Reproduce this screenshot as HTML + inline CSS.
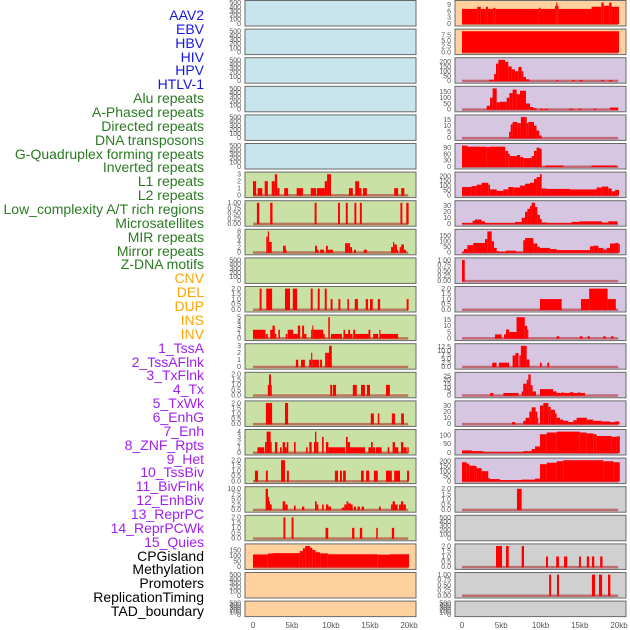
<!DOCTYPE html>
<html><head><meta charset="utf-8">
<style>
html,body{margin:0;padding:0;background:#fff;}
body{width:630px;height:630px;overflow:hidden;position:relative;font-family:"Liberation Sans",sans-serif;}
#labels{position:absolute;left:0;top:0;width:204px;height:630px;}
.lab{position:absolute;right:0;font-size:14px;line-height:14px;white-space:nowrap;text-align:right;}
svg{position:absolute;left:0;top:0;}
</style></head>
<body>
<div id="labels"></div>
<svg id="chart" width="630" height="630"></svg>
<script>
const trackNames=["AAV2","EBV","HBV","HIV","HPV","HTLV-1","Alu repeats","A-Phased repeats","Directed repeats","DNA transposons","G-Quadruplex forming repeats","Inverted repeats","L1 repeats","L2 repeats","Low_complexity A/T rich regions","Microsatellites","MIR repeats","Mirror repeats","Z-DNA motifs","CNV","DEL","DUP","INS","INV","1_TssA","2_TssAFlnk","3_TxFlnk","4_Tx","5_TxWk","6_EnhG","7_Enh","8_ZNF_Rpts","9_Het","10_TssBiv","11_BivFlnk","12_EnhBiv","13_ReprPC","14_ReprPCWk","15_Quies","CPGisland","Methylation","Promoters","ReplicationTiming","TAD_boundary"];
const trackGroups=[6,13,5,15,5];
const groupColors=["#1515e6","#2a7a22","#ffa500","#a020f0","#000000"];
const xTickLabels=["0","5kb","10kb","15kb","20kb"];
const xTickValues=[0,5,10,15,20];

const T500=["0","100","200","300","400","500"];
const T1=["0.00","0.25","0.50","0.75","1.00"];
const T2=["0.0","0.5","1.0","1.5","2.0"];

const segsL6=[[0,0.4,2],[0.6,1.2,1],[1.5,1.9,2],[2.4,2.8,2],[2.8,3.1,3],[3.1,3.4,1],[4.0,4.5,1],[5.6,6.4,1],[7.4,8.1,1],[8.2,9.2,1],[9.2,9.5,2],[9.5,10.0,3],[12.3,12.8,1],[13.1,13.6,2],[13.6,13.9,1],[14.1,14.6,1],[18.1,18.6,1],[19.0,19.4,1]];
const segsL7=[[0.5,0.8,1],[2.2,2.5,1],[7.9,8.15,1],[10.9,11.15,1],[11.9,12.15,1],[13.0,13.25,1],[13.7,13.95,1],[18.9,19.15,1],[19.65,19.95,1]];
const segsL8=[[1.7,1.9,6],[1.9,2.05,8],[2.05,2.4,4],[3.85,4.2,2.5],[4.2,4.3,1],[7.95,8.2,2.5],[8.2,8.4,1],[8.6,9.1,1],[9.35,9.6,2.5],[9.6,10.25,1],[11.8,12.2,3.5],[12.2,12.45,3.5],[12.45,12.7,2],[12.95,13.2,1],[14.2,14.6,1],[17.7,17.95,2],[17.95,18.1,4],[18.1,18.45,3],[18.45,18.6,1],[18.8,19.0,2],[19.0,19.35,3],[19.35,19.6,1]];
const segsL10=[[0.85,1.1,2],[1.7,2.45,2],[4.1,4.75,2],[5.1,5.65,2],[7.4,7.65,2],[8.3,8.55,2],[9.2,9.45,2],[9.95,10.2,1],[10.95,11.2,1],[12.1,12.3,1],[13.05,13.45,1],[14.45,14.75,1],[15.0,15.35,1],[16.0,16.3,1],[19.7,19.95,1]];
const segsL11=[[0,1.6,2],[1.65,1.9,1],[2.2,2.5,2],[2.5,2.8,3],[2.8,3.0,1],[3.25,3.45,2],[4.2,4.4,1],[4.45,5.15,2],[5.15,5.8,1],[5.75,6.05,3],[6.3,6.55,3],[6.55,6.85,1],[7.45,7.6,2],[7.6,7.75,3],[7.75,9.0,2],[9.0,9.2,1],[9.65,9.85,5],[10.0,11.4,1],[11.6,11.8,2],[11.8,12.2,1],[12.2,12.45,2],[12.45,12.75,1],[12.85,13.1,2],[13.1,14.8,1],[14.8,15.05,2],[15.4,16.05,1],[16.2,16.35,2],[16.35,18.6,1]];
const segsL12=[[5.5,5.8,1],[6.15,6.65,1],[7.2,7.45,1],[7.45,7.6,2],[7.6,7.7,1],[7.7,8.45,1],[8.6,8.85,1],[9.25,9.6,2],[9.6,9.75,2],[9.75,10.1,3]];
const segsL13=[[1.9,2.05,1],[2.05,2.3,2],[2.3,2.4,1],[9.9,10.15,1],[10.25,10.65,1],[12.8,13.3,1],[13.85,14.35,1],[14.6,15.0,1],[17.05,17.55,1]];
const segsL14=[[1.65,2.45,2],[4.1,4.5,2],[15.1,15.5,1],[16.0,16.2,1],[17.8,18.2,1],[19.0,19.35,1]];
const segsL15=[[0.56,1.45,1],[1.54,1.75,2],[1.75,2.26,4],[2.26,2.4,2],[2.82,3.12,2],[3.46,3.68,1],[3.8,4.1,2],[4.1,4.32,1],[4.32,4.53,2],[5.26,5.47,2],[6.8,7.0,1],[7.22,7.52,2],[7.82,7.95,2],[7.95,8.12,4],[8.12,8.38,2],[8.85,9.06,3],[9.36,9.66,2],[9.66,11.8,1],[11.92,12.14,3],[12.14,12.44,2],[12.44,14.36,1],[14.79,15.13,1],[15.13,15.34,2],[15.34,15.64,1],[15.73,16.5,1],[17.26,17.48,1],[17.9,18.2,2],[18.2,18.63,1],[18.97,19.27,2],[19.27,19.7,1],[19.79,19.96,1]];
const segsL16=[[0.25,0.65,1],[1.65,1.9,1],[3.6,4.1,2],[4.35,4.6,1],[10.5,10.9,1],[11.15,11.4,1],[11.55,11.9,1],[13.85,14.2,1],[14.5,14.9,1],[15.5,16.0,1],[17.05,17.8,1],[18.1,18.85,1],[19.75,20.0,1]];
const segsL17=[[1.62,1.92,10],[1.92,2.05,6],[2.05,2.18,4],[2.18,2.4,2.5],[3.8,4.15,4],[4.15,4.45,2.5],[5.25,5.47,2],[6.28,6.58,1.5],[7.95,8.16,4],[8.16,8.38,2.5],[8.85,9.06,2.5],[9.36,9.66,2.5],[9.66,10.0,1.5],[11.37,11.7,1],[11.7,12.0,2.5],[12.0,12.22,4],[12.22,12.56,3],[12.56,12.78,2.5],[12.95,13.2,1.5],[13.4,13.7,1.5],[13.93,14.23,1.5],[16.15,16.37,1.5],[17.7,17.9,2.5],[17.9,18.2,4],[18.2,18.55,2.5],[18.72,18.97,2.5],[18.97,19.27,4],[19.27,19.6,2.5]];
const segsL18=[[3.9,4.15,2],[4.95,5.2,2],[9.3,9.65,1],[12.7,13.0,1],[13.7,14.0,1],[15.8,16.0,1],[17.8,18.1,1]];
const segsL19=[[0,1.9,110],[1.9,2.5,118],[2.5,6.0,122],[6.0,6.4,140],[6.4,6.7,165],[6.7,7.3,185],[7.3,7.6,170],[7.6,8.0,150],[8.0,8.6,130],[8.6,9.6,120],[9.6,16.0,112],[16.0,17.5,108],[17.5,20.0,112]];

const segsR0=[[0,1.95,7],[1.95,2.4,8],[2.4,3.05,7],[3.05,3.3,8],[3.3,4.0,7],[4.0,4.25,7.5],[4.25,9.8,7],[9.8,10.0,7.5],[10.0,11.85,7],[11.85,12.0,8.5],[12.0,12.15,10],[12.15,12.3,8.5],[12.3,16.5,7],[16.5,17.75,8],[17.75,18.05,10],[18.05,18.75,8.5],[18.75,19.05,10],[19.05,20,8]];
const segsR1=[[0,20,9.2]];
const segsR2=[[3.44,4.08,10],[4.08,4.33,70],[4.33,4.63,180],[4.63,5.48,220],[5.48,5.9,200],[5.9,6.33,150],[6.33,6.75,120],[6.75,7.18,100],[7.18,7.6,145],[7.6,7.81,100],[7.81,8.15,40],[8.15,8.58,15],[12.0,12.3,5],[14.0,14.4,5],[14.95,15.4,5],[17.7,18.1,5],[18.7,19.2,5]];
const segsR3=[[3.14,3.57,30],[3.57,3.9,100],[3.9,4.42,180],[4.42,4.76,60],[4.76,5.69,65],[5.69,6.03,100],[6.03,6.45,140],[6.45,6.96,170],[6.96,7.39,130],[7.39,8.15,160],[8.15,8.66,50],[8.66,9.09,20],[9.09,9.5,10],[9.94,10.36,5],[10.5,11.0,5],[13.63,14.2,5],[14.8,15.24,5],[16.73,17.15,5],[18.85,19.9,15]];
const segsR4=[[5.99,6.2,5],[6.2,6.45,11],[6.45,7.05,13],[7.05,7.5,12],[7.5,8.24,17],[8.24,8.45,12],[8.45,9.17,13],[9.17,9.5,10],[9.5,9.85,6],[9.85,10.15,2]];
const segsR5=[[0,0.7,100],[0.7,3.1,95],[3.1,3.5,93],[3.5,5.5,95],[5.5,5.9,75],[5.9,6.1,60],[6.1,7.0,50],[7.0,7.4,55],[7.4,7.8,45],[7.8,8.87,40],[8.87,9.17,50],[9.17,9.5,75],[9.5,9.93,90],[9.93,10.15,85],[10.6,12.9,5],[16.5,19.7,5]];
const segsR6=[[0,1.23,85],[1.23,1.87,95],[1.87,2.5,110],[2.5,3.35,130],[3.35,3.57,110],[3.57,4.42,60],[4.42,5.27,45],[5.27,5.9,60],[5.9,6.54,85],[6.54,7.39,80],[7.39,8.03,100],[8.03,8.66,120],[8.66,9.17,130],[9.17,9.5,170],[9.5,9.93,190],[9.93,10.15,220],[10.15,10.78,70],[10.78,13.75,65],[13.75,17.15,60],[17.15,17.8,80],[17.8,18.64,90],[18.64,19.07,70],[19.07,19.5,40],[19.5,20,55]];
const segsR7=[[0,1.35,1],[1.35,1.65,5],[1.65,2.5,7],[2.5,2.93,4],[2.93,6.75,1],[6.75,7.6,3],[7.6,8.03,10],[8.03,8.33,20],[8.33,8.66,25],[8.66,8.87,30],[8.87,9.3,35],[9.3,9.6,28],[9.6,9.93,15],[9.93,10.15,8],[10.15,10.87,2],[10.87,13.97,1],[13.97,14.95,3],[14.95,17.8,4],[17.8,18.64,2],[18.64,19.8,4]];
const segsR8=[[0,0.25,5],[0.25,0.68,30],[0.68,1.44,65],[1.44,2.93,85],[2.93,3.23,120],[3.23,3.78,190],[3.78,4.08,100],[4.08,4.42,40],[4.42,4.7,10],[4.7,5.6,5],[5.6,6.88,15],[6.88,7.8,5],[7.8,8.03,110],[8.03,9.09,130],[9.09,9.6,80],[9.6,9.93,50],[9.93,11.2,40],[11.2,12.06,30],[12.06,16.3,20],[16.3,16.73,55],[16.73,17.37,60],[17.37,18.0,40],[18.0,18.43,25],[18.43,18.85,40],[18.85,19.5,80],[19.5,19.92,85],[19.92,20.1,75]];
const segsR9=[[0,0.35,1]];
const segsR10=[[9.93,12.7,1],[15.15,16.2,1],[16.2,18.55,2],[18.55,19.6,1]];
const segsR11=[[4.2,5.05,3],[5.35,5.6,3],[5.6,6.0,7],[6.0,6.95,5],[6.95,8.0,17],[8.0,8.3,10],[8.3,8.45,7],[12.05,12.4,1.5],[15.0,15.35,1.5],[16.0,16.3,1.5],[18.0,18.3,1.5],[19.0,19.3,1.5]];
const segsR12=[[3.85,4.4,2.5],[4.7,6.0,2.5],[6.45,6.8,7],[6.8,7.2,8.5],[7.3,7.5,7],[7.5,8.24,13],[8.24,8.6,4.5],[9.93,10.15,2.5],[10.87,11.1,2.5]];
const segsR13=[[3.57,4.0,3],[5.27,7.2,3],[7.6,7.8,5],[7.8,8.25,15],[8.25,8.45,20],[8.45,8.75,27],[8.75,9.0,13],[9.0,9.43,5],[9.93,11.6,8],[11.6,12.06,5],[12.06,12.7,3],[12.7,12.9,4],[12.9,13.75,3],[13.75,14.18,4],[14.18,14.82,3],[14.82,15.03,4],[15.03,15.67,3]];
const segsR14=[[6.37,6.8,3],[7.8,8.1,5],[8.1,8.58,10],[8.58,8.87,20],[8.87,9.38,27],[9.38,9.6,20],[9.6,9.72,10],[9.93,10.36,30],[10.36,11.0,34],[11.0,11.3,28],[11.3,11.85,23],[11.85,12.06,17],[12.06,12.48,10],[12.48,12.9,7],[12.9,13.55,5],[13.55,14.18,3],[14.18,14.6,6],[14.6,15.9,10],[15.9,16.73,7],[16.73,17.8,5],[17.8,18.85,4],[18.85,19.5,3],[19.5,20.05,4]];
const segsR15=[[0,1.25,12],[1.25,2.7,8],[2.7,7.8,2],[7.8,8.87,8],[8.87,9.3,20],[9.3,9.93,35],[9.93,10.8,105],[10.8,12.06,115],[12.06,15.0,120],[15.0,15.88,115],[15.88,16.73,110],[16.73,17.15,105],[17.15,19.07,95],[19.07,19.7,90],[19.7,20.1,93]];
const segsR16=[[0,0.6,190],[0.6,0.93,175],[0.93,1.65,155],[1.65,1.87,150],[1.87,2.5,130],[2.5,3.35,100],[3.35,3.57,30],[3.57,4.85,20],[4.85,7.6,10],[7.6,9.3,15],[9.3,9.93,25],[9.93,10.8,170],[10.8,12.06,185],[12.06,12.9,200],[12.9,18.0,210],[18.0,19.28,200],[19.28,20.1,190]];
const segsR17=[[7.0,7.6,2]];
const segsR19=[[4.33,5.1,2],[5.6,5.95,2],[7.6,7.9,2],[10.7,10.95,1],[12.0,12.35,1],[13.0,13.4,1],[14.9,15.15,1],[15.9,16.2,1],[16.55,16.85,1],[17.6,17.9,1]];
const segsR20=[[11.1,11.35,1],[12.1,12.35,1],[16.55,16.95,1],[17.45,17.85,1],[18.6,18.9,1]];

const BLUE="#c8e4ec",GREEN="#c9e1a5",ORANGE="#fed19f",PURPLE="#d6c6e2",GRAY="#d0d0d0";
const leftSegs=[null,null,null,null,null,null,segsL6,segsL7,segsL8,null,segsL10,segsL11,segsL12,segsL13,segsL14,segsL15,segsL16,segsL17,segsL18,segsL19,null,null];
const leftTicks=[T500,T500,T500,T500,T500,T500,["0","1","2","3"],T1,["0","2","4","6","8"],T500,T2,["0","1","2","3","4","5"],["0","1","2","3"],T2,T2,["0","1","2","3","4"],T2,["0.0","2.5","5.0","7.5","10.0"],T2,["0","50","100","150"],T500,T500];
const rightSegs=[segsR0,segsR1,segsR2,segsR3,segsR4,segsR5,segsR6,segsR7,segsR8,segsR9,segsR10,segsR11,segsR12,segsR13,segsR14,segsR15,segsR16,segsR17,null,segsR19,segsR20,null];
const rightTicks=[["0","3","6","9"],["0.0","2.5","5.0","7.5"],["0","50","100","150","200"],["0","50","100","150"],["0","5","10","15"],["0","30","60","90"],["0","50","100","150","200"],["0","10","20","30"],["0","50","100","150"],T1,T2,["0","5","10","15"],["0.0","2.5","5.0","7.5","10.0","12.5"],["0","5","10","15","20","25"],["0","10","20","30"],["0","50","100"],["0","50","100","150","200"],T2,T500,T2,T1,T500];

// labels
const labDiv=document.getElementById('labels');
let gi=0,gc=0;
trackNames.forEach((n,i)=>{
  const d=document.createElement('div');
  d.className='lab';
  
  
  d.style.top=(8+i*13.86)+'px';
  d.style.color=groupColors[gi];
  d.textContent=n;
  labDiv.appendChild(d);
  gc++; if(gc>=trackGroups[gi]){gi++;gc=0;}
});

const NS="http://www.w3.org/2000/svg";
const svg=document.getElementById('chart');
function mk(tag,attrs){const e=document.createElementNS(NS,tag);for(const k in attrs)e.setAttribute(k,attrs[k]);return e;}

function drawColumn(col,segsArr,ticksArr,bgFn){
  const px0=col===0?245:455, px1=col===0?416:626;
  const x0=col===0?253:462, kbPx=col===0?7.8:7.85;
  const xs=kb=>x0+kb*kbPx;
  const tickX=col===0?241:451;
  for(let i=0;i<22;i++){
    const top=0.5+i*28.6, h=i===21?15.5:25.5;
    const base=top+(i===21?13.5:23), yt=top+1.5;
    const segs=segsArr[i];
    let dmax=520;
    if(segs){dmax=Math.max(...segs.map(s=>s[2]))*1.03;}
    const ys=v=>Math.max(top+0.5,base-(v/dmax)*(base-yt));
    const g=mk('g',{});
    
    
    const bg=mk('rect',{x:px0,y:top,width:px1-px0,height:h,fill:bgFn(i),stroke:'#6a6a6a','stroke-width':1});
    
    
    g.appendChild(bg);
    if(segs){
      const bl=mk('rect',{x:xs(0),y:base-1,width:xs(19.9)-xs(0),height:2.5,fill:'rgba(175,45,45,0.6)'});
      
      
      g.appendChild(bl);
      segs.forEach(s=>{
        const y=ys(s[2]);
        const r=mk('rect',{x:xs(s[0]),y:y,width:Math.max(0.8,xs(s[1])-xs(s[0])),height:base-y+0.5,fill:'#ff0000'});
        
        
        g.appendChild(r);
      });
    }
    ticksArr[i].forEach(t=>{
      const v=parseFloat(t);
      const tt=mk('text',{x:tickX,y:base-(v/dmax)*(base-yt)+2.3,'text-anchor':'end','font-size':'7',fill:'#555','font-family':'Liberation Sans, sans-serif'});
      
      
      tt.textContent=t;
      g.appendChild(tt);
    });
    svg.appendChild(g);
  }
  xTickValues.forEach((v,k)=>{
    const t=mk('text',{x:xs(v),y:628,'text-anchor':'middle','font-size':'8',fill:'#555','font-family':'Liberation Sans, sans-serif'});
    
    
    t.textContent=xTickLabels[k];
    svg.appendChild(t);
  });
}
drawColumn(0,leftSegs,leftTicks,i=>i<6?BLUE:(i<19?GREEN:ORANGE));
drawColumn(1,rightSegs,rightTicks,i=>i<2?ORANGE:(i<17?PURPLE:GRAY));
</script>
</body></html>
